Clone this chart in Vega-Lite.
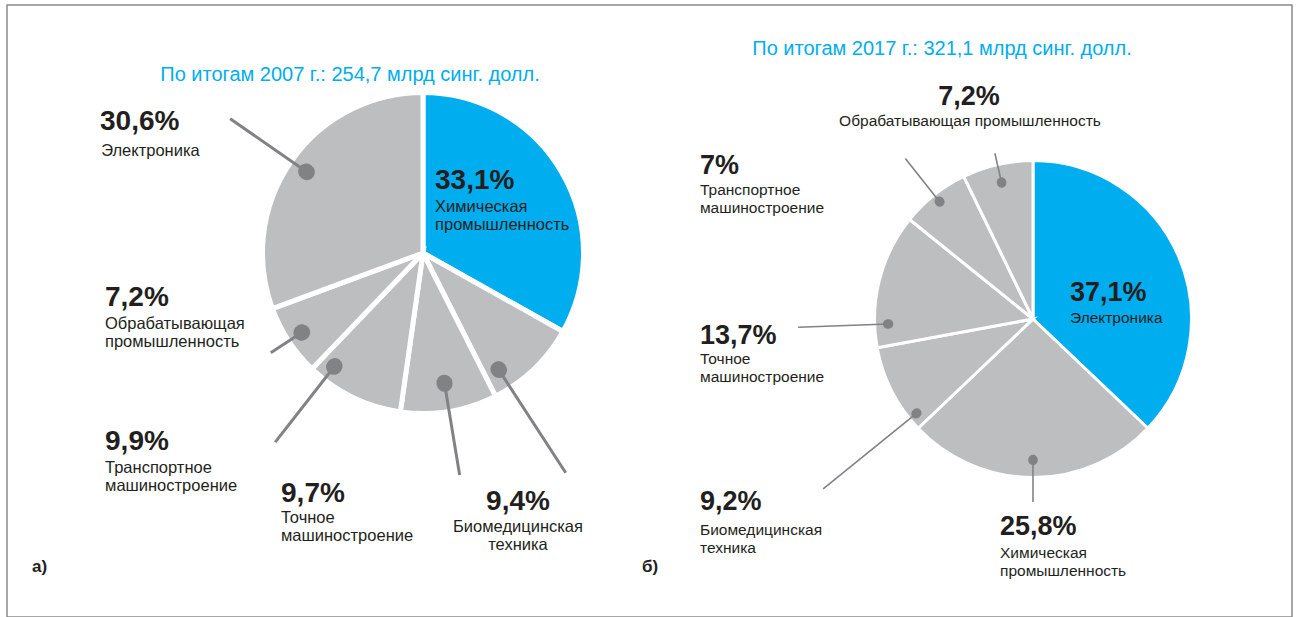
{
  "$schema": "https://vega.github.io/schema/vega-lite/v6.json",
  "width": 1285,
  "height": 612,
  "autosize": "none",
  "padding": {"left": 7, "top": 5, "right": 6, "bottom": 0},
  "background": "white",
  "config": {
    "view": {"stroke": "#8a8a8a", "strokeWidth": 1.5},
    "text": {"font": "Liberation Sans"},
    "locale": {"number": {"decimal": ",", "thousands": " ", "grouping": [3], "currency": ["", "%"]}}
  },
  "datasets": {
    "sectors": [
      {"year": 2007, "sector": "Химическая промышленность", "share": 33.1},
      {"year": 2007, "sector": "Биомедицинская техника", "share": 9.4},
      {"year": 2007, "sector": "Точное машиностроение", "share": 9.7},
      {"year": 2007, "sector": "Транспортное машиностроение", "share": 9.9},
      {"year": 2007, "sector": "Обрабатывающая промышленность", "share": 7.2},
      {"year": 2007, "sector": "Электроника", "share": 30.6},
      {"year": 2017, "sector": "Электроника", "share": 37.1},
      {"year": 2017, "sector": "Химическая промышленность", "share": 25.8},
      {"year": 2017, "sector": "Биомедицинская техника", "share": 9.2},
      {"year": 2017, "sector": "Точное машиностроение", "share": 13.7},
      {"year": 2017, "sector": "Транспортное машиностроение", "share": 7.0},
      {"year": 2017, "sector": "Обрабатывающая промышленность", "share": 7.2}
    ],
    "years": [
      {"year": 2007, "heading": "По итогам 2007 г.: 254,7 млрд синг. долл.", "panel": "а)"},
      {"year": 2017, "heading": "По итогам 2017 г.: 321,1 млрд синг. долл.", "panel": "б)"}
    ]
  },
  "encoding": {
    "x": {"field": "year", "type": "ordinal", "scale": {"type": "point", "range": [416, 1026], "padding": 0}, "axis": null},
    "y": {"field": "year", "type": "ordinal", "scale": {"type": "point", "range": [248, 314], "padding": 0}, "axis": null}
  },
  "layer": [
    {
      "data": {"name": "sectors"},
      "transform": [{"filter": "datum.year == 2007"}, {"window": [{"op": "row_number", "as": "slice"}]}],
      "encoding": {
        "theta": {"field": "share", "type": "quantitative", "stack": true},
        "order": {"field": "slice", "type": "quantitative"}
      },
      "layer": [
        {"mark": {"type": "arc", "outerRadius": 160.5, "stroke": "white", "strokeWidth": 5},
         "encoding": {"color": {"condition": {"test": "datum.sector === 'Химическая промышленность'", "value": "#00ADEF"}, "value": "#BCBEC0"}}},

        {"mark": {"type": "arc", "innerRadius": 142, "outerRadius": 235, "padAngle": 3, "filled": false, "color": "#808285", "strokeWidth": 3, "strokeJoin": "bevel"},
         "encoding": {"opacity": {"condition": {"test": "datum.sector === 'Электроника'", "value": 1}, "value": 0}}},
        {"mark": {"type": "arc", "innerRadius": 141.5, "outerRadius": 142.5, "padAngle": 3, "filled": false, "color": "#808285", "strokeWidth": 16, "strokeJoin": "round"},
         "encoding": {"opacity": {"condition": {"test": "datum.sector === 'Электроника'", "value": 1}, "value": 0}}},
        {"mark": {"type": "text", "radius": 235, "align": "left", "baseline": "alphabetic", "dx": -130.2, "dy": 11.3, "fontSize": 28, "fontWeight": "bold", "color": "#231F20"},
         "encoding": {"text": {"condition": {"test": "datum.sector === 'Электроника'", "field": "share", "type": "quantitative", "format": "$.1~f"}, "value": ""}}},
        {"mark": {"type": "text", "radius": 235, "align": "left", "baseline": "alphabetic", "dx": -129, "dy": 37.3, "fontSize": 16.5, "lineHeight": 18, "color": "#231F20"},
         "encoding": {"text": {"condition": {"test": "datum.sector === 'Электроника'", "field": "sector", "type": "nominal"}, "value": ""}}},

        {"mark": {"type": "text", "radius": 80, "align": "left", "baseline": "alphabetic", "dx": -57, "dy": -23.5, "fontSize": 28, "fontWeight": "bold", "color": "#231F20"},
         "encoding": {"text": {"condition": {"test": "datum.sector === 'Химическая промышленность'", "field": "share", "type": "quantitative", "format": "$.1~f"}, "value": ""}}},
        {"mark": {"type": "text", "radius": 80, "align": "left", "baseline": "alphabetic", "dx": -57, "dy": -0.5, "fontSize": 16.5, "lineHeight": 18, "lineBreak": " ", "color": "#231F20"},
         "encoding": {"text": {"condition": {"test": "datum.sector === 'Химическая промышленность'", "field": "sector", "type": "nominal"}, "value": ""}}},

        {"mark": {"type": "arc", "innerRadius": 145, "outerRadius": 182, "padAngle": 3, "filled": false, "color": "#808285", "strokeWidth": 3, "strokeJoin": "bevel"},
         "encoding": {"opacity": {"condition": {"test": "datum.sector === 'Обрабатывающая промышленность'", "value": 1}, "value": 0}}},
        {"mark": {"type": "arc", "innerRadius": 144.5, "outerRadius": 145.5, "padAngle": 3, "filled": false, "color": "#808285", "strokeWidth": 16, "strokeJoin": "round"},
         "encoding": {"opacity": {"condition": {"test": "datum.sector === 'Обрабатывающая промышленность'", "value": 1}, "value": 0}}},
        {"mark": {"type": "text", "radius": 182, "align": "left", "baseline": "alphabetic", "dx": -165.8, "dy": -46.8, "fontSize": 28, "fontWeight": "bold", "color": "#231F20"},
         "encoding": {"text": {"condition": {"test": "datum.sector === 'Обрабатывающая промышленность'", "field": "share", "type": "quantitative", "format": "$.1~f"}, "value": ""}}},
        {"mark": {"type": "text", "radius": 182, "align": "left", "baseline": "alphabetic", "dx": -165.8, "dy": -23.8, "fontSize": 16.5, "lineHeight": 18, "lineBreak": " ", "color": "#231F20"},
         "encoding": {"text": {"condition": {"test": "datum.sector === 'Обрабатывающая промышленность'", "field": "sector", "type": "nominal"}, "value": ""}}},

        {"mark": {"type": "arc", "innerRadius": 144, "outerRadius": 240, "padAngle": 3, "thetaOffset": 0.2104, "theta2Offset": 0.2104, "filled": false, "color": "#808285", "strokeWidth": 3, "strokeJoin": "bevel"},
         "encoding": {"opacity": {"condition": {"test": "datum.sector === 'Транспортное машиностроение'", "value": 1}, "value": 0}}},
        {"mark": {"type": "arc", "innerRadius": 143.5, "outerRadius": 144.5, "padAngle": 3, "thetaOffset": 0.2104, "theta2Offset": 0.2104, "filled": false, "color": "#808285", "strokeWidth": 16, "strokeJoin": "round"},
         "encoding": {"opacity": {"condition": {"test": "datum.sector === 'Транспортное машиностроение'", "value": 1}, "value": 0}}},
        {"mark": {"type": "text", "radius": 240, "thetaOffset": 0.2104, "align": "left", "baseline": "alphabetic", "dx": -170.2, "dy": 7.9, "fontSize": 28, "fontWeight": "bold", "color": "#231F20"},
         "encoding": {"text": {"condition": {"test": "datum.sector === 'Транспортное машиностроение'", "field": "share", "type": "quantitative", "format": "$.1~f"}, "value": ""}}},
        {"mark": {"type": "text", "radius": 240, "thetaOffset": 0.2104, "align": "left", "baseline": "alphabetic", "dx": -170.2, "dy": 30.9, "fontSize": 16.5, "lineHeight": 18, "lineBreak": " ", "color": "#231F20"},
         "encoding": {"text": {"condition": {"test": "datum.sector === 'Транспортное машиностроение'", "field": "sector", "type": "nominal"}, "value": ""}}},

        {"mark": {"type": "arc", "innerRadius": 132, "outerRadius": 225, "padAngle": 3, "filled": false, "color": "#808285", "strokeWidth": 3, "strokeJoin": "bevel"},
         "encoding": {"opacity": {"condition": {"test": "datum.sector === 'Точное машиностроение'", "value": 1}, "value": 0}}},
        {"mark": {"type": "arc", "innerRadius": 131.5, "outerRadius": 132.5, "padAngle": 3, "filled": false, "color": "#808285", "strokeWidth": 16, "strokeJoin": "round"},
         "encoding": {"opacity": {"condition": {"test": "datum.sector === 'Точное машиностроение'", "value": 1}, "value": 0}}},
        {"mark": {"type": "text", "radius": 225, "align": "left", "baseline": "alphabetic", "dx": -178.6, "dy": 27, "fontSize": 28, "fontWeight": "bold", "color": "#231F20"},
         "encoding": {"text": {"condition": {"test": "datum.sector === 'Точное машиностроение'", "field": "share", "type": "quantitative", "format": "$.1~f"}, "value": ""}}},
        {"mark": {"type": "text", "radius": 225, "align": "left", "baseline": "alphabetic", "dx": -178.6, "dy": 48, "fontSize": 16.5, "lineHeight": 18, "lineBreak": " ", "color": "#231F20"},
         "encoding": {"text": {"condition": {"test": "datum.sector === 'Точное машиностроение'", "field": "sector", "type": "nominal"}, "value": ""}}},

        {"mark": {"type": "arc", "innerRadius": 139, "outerRadius": 262, "padAngle": 3, "thetaOffset": 0.1882, "theta2Offset": 0.1882, "filled": false, "color": "#808285", "strokeWidth": 3, "strokeJoin": "bevel"},
         "encoding": {"opacity": {"condition": {"test": "datum.sector === 'Биомедицинская техника'", "value": 1}, "value": 0}}},
        {"mark": {"type": "arc", "innerRadius": 138.5, "outerRadius": 139.5, "padAngle": 3, "thetaOffset": 0.1882, "theta2Offset": 0.1882, "filled": false, "color": "#808285", "strokeWidth": 16, "strokeJoin": "round"},
         "encoding": {"opacity": {"condition": {"test": "datum.sector === 'Биомедицинская техника'", "value": 1}, "value": 0}}},
        {"mark": {"type": "text", "radius": 262, "thetaOffset": 0.1882, "align": "center", "baseline": "alphabetic", "dx": -47.7, "dy": 37.3, "fontSize": 28, "fontWeight": "bold", "color": "#231F20"},
         "encoding": {"text": {"condition": {"test": "datum.sector === 'Биомедицинская техника'", "field": "share", "type": "quantitative", "format": "$.1~f"}, "value": ""}}},
        {"mark": {"type": "text", "radius": 262, "thetaOffset": 0.1882, "align": "center", "baseline": "alphabetic", "dx": -47.7, "dy": 59.3, "fontSize": 16.5, "lineHeight": 18, "lineBreak": " ", "color": "#231F20"},
         "encoding": {"text": {"condition": {"test": "datum.sector === 'Биомедицинская техника'", "field": "sector", "type": "nominal"}, "value": ""}}}
      ]
    },
    {
      "data": {"name": "sectors"},
      "transform": [{"filter": "datum.year == 2017"}, {"window": [{"op": "row_number", "as": "slice"}]}],
      "encoding": {
        "theta": {"field": "share", "type": "quantitative", "stack": true},
        "order": {"field": "slice", "type": "quantitative"}
      },
      "layer": [
        {"mark": {"type": "arc", "outerRadius": 158.5, "stroke": "white", "strokeWidth": 3},
         "encoding": {"color": {"condition": {"test": "datum.sector === 'Электроника'", "value": "#00ADEF"}, "value": "#BCBEC0"}}},

        {"mark": {"type": "text", "radius": 80, "align": "left", "baseline": "alphabetic", "dx": -36.5, "dy": 13.5, "fontSize": 27, "fontWeight": "bold", "color": "#231F20"},
         "encoding": {"text": {"condition": {"test": "datum.sector === 'Электроника'", "field": "share", "type": "quantitative", "format": "$.1~f"}, "value": ""}}},
        {"mark": {"type": "text", "radius": 80, "align": "left", "baseline": "alphabetic", "dx": -36.5, "dy": 35.5, "fontSize": 15.5, "lineHeight": 17.5, "color": "#231F20"},
         "encoding": {"text": {"condition": {"test": "datum.sector === 'Электроника'", "field": "sector", "type": "nominal"}, "value": ""}}},

        {"mark": {"type": "arc", "innerRadius": 141, "outerRadius": 183, "padAngle": 3, "filled": false, "color": "#808285", "strokeWidth": 1.6, "strokeJoin": "bevel"},
         "encoding": {"opacity": {"condition": {"test": "datum.sector === 'Химическая промышленность'", "value": 1}, "value": 0}}},
        {"mark": {"type": "arc", "innerRadius": 140.5, "outerRadius": 141.5, "padAngle": 3, "filled": false, "color": "#808285", "strokeWidth": 9.5, "strokeJoin": "round"},
         "encoding": {"opacity": {"condition": {"test": "datum.sector === 'Химическая промышленность'", "value": 1}, "value": 0}}},
        {"mark": {"type": "text", "radius": 183, "align": "left", "baseline": "alphabetic", "dx": -33, "dy": 33, "fontSize": 27, "fontWeight": "bold", "color": "#231F20"},
         "encoding": {"text": {"condition": {"test": "datum.sector === 'Химическая промышленность'", "field": "share", "type": "quantitative", "format": "$.1~f"}, "value": ""}}},
        {"mark": {"type": "text", "radius": 183, "align": "left", "baseline": "alphabetic", "dx": -33, "dy": 56, "fontSize": 15.5, "lineHeight": 17.5, "lineBreak": " ", "color": "#231F20"},
         "encoding": {"text": {"condition": {"test": "datum.sector === 'Химическая промышленность'", "field": "sector", "type": "nominal"}, "value": ""}}},

        {"mark": {"type": "arc", "innerRadius": 150, "outerRadius": 270, "padAngle": 3, "thetaOffset": -0.2094, "theta2Offset": -0.2094, "filled": false, "color": "#808285", "strokeWidth": 1.6, "strokeJoin": "bevel"},
         "encoding": {"opacity": {"condition": {"test": "datum.sector === 'Биомедицинская техника'", "value": 1}, "value": 0}}},
        {"mark": {"type": "arc", "innerRadius": 149.5, "outerRadius": 150.5, "padAngle": 3, "thetaOffset": -0.2094, "theta2Offset": -0.2094, "filled": false, "color": "#808285", "strokeWidth": 9.5, "strokeJoin": "round"},
         "encoding": {"opacity": {"condition": {"test": "datum.sector === 'Биомедицинская техника'", "value": 1}, "value": 0}}},
        {"mark": {"type": "text", "radius": 270, "thetaOffset": -0.2094, "align": "left", "baseline": "alphabetic", "dx": -123.2, "dy": 21.1, "fontSize": 27, "fontWeight": "bold", "color": "#231F20"},
         "encoding": {"text": {"condition": {"test": "datum.sector === 'Биомедицинская техника'", "field": "share", "type": "quantitative", "format": "$.1~f"}, "value": ""}}},
        {"mark": {"type": "text", "radius": 270, "thetaOffset": -0.2094, "align": "left", "baseline": "alphabetic", "dx": -123.2, "dy": 46.1, "fontSize": 15.5, "lineHeight": 17.5, "lineBreak": " ", "color": "#231F20"},
         "encoding": {"text": {"condition": {"test": "datum.sector === 'Биомедицинская техника'", "field": "sector", "type": "nominal"}, "value": ""}}},

        {"mark": {"type": "arc", "innerRadius": 145, "outerRadius": 235, "padAngle": 3, "thetaOffset": -0.2831, "theta2Offset": -0.2831, "filled": false, "color": "#808285", "strokeWidth": 1.6, "strokeJoin": "bevel"},
         "encoding": {"opacity": {"condition": {"test": "datum.sector === 'Точное машиностроение'", "value": 1}, "value": 0}}},
        {"mark": {"type": "arc", "innerRadius": 144.5, "outerRadius": 145.5, "padAngle": 3, "thetaOffset": -0.2831, "theta2Offset": -0.2831, "filled": false, "color": "#808285", "strokeWidth": 9.5, "strokeJoin": "round"},
         "encoding": {"opacity": {"condition": {"test": "datum.sector === 'Точное машиностроение'", "value": 1}, "value": 0}}},
        {"mark": {"type": "text", "radius": 235, "thetaOffset": -0.2831, "align": "left", "baseline": "alphabetic", "dx": -98.1, "dy": 16.8, "fontSize": 27, "fontWeight": "bold", "color": "#231F20"},
         "encoding": {"text": {"condition": {"test": "datum.sector === 'Точное машиностроение'", "field": "share", "type": "quantitative", "format": "$.1~f"}, "value": ""}}},
        {"mark": {"type": "text", "radius": 235, "thetaOffset": -0.2831, "align": "left", "baseline": "alphabetic", "dx": -98.1, "dy": 36.8, "fontSize": 15.5, "lineHeight": 17.5, "lineBreak": " ", "color": "#231F20"},
         "encoding": {"text": {"condition": {"test": "datum.sector === 'Точное машиностроение'", "field": "sector", "type": "nominal"}, "value": ""}}},

        {"mark": {"type": "arc", "innerRadius": 150, "outerRadius": 205, "padAngle": 3, "filled": false, "color": "#808285", "strokeWidth": 1.6, "strokeJoin": "bevel"},
         "encoding": {"opacity": {"condition": {"test": "datum.sector === 'Транспортное машиностроение'", "value": 1}, "value": 0}}},
        {"mark": {"type": "arc", "innerRadius": 149.5, "outerRadius": 150.5, "padAngle": 3, "filled": false, "color": "#808285", "strokeWidth": 9.5, "strokeJoin": "round"},
         "encoding": {"opacity": {"condition": {"test": "datum.sector === 'Транспортное машиностроение'", "value": 1}, "value": 0}}},
        {"mark": {"type": "text", "radius": 205, "align": "left", "baseline": "alphabetic", "dx": -205.4, "dy": 15.4, "fontSize": 27, "fontWeight": "bold", "color": "#231F20"},
         "encoding": {"text": {"condition": {"test": "datum.sector === 'Транспортное машиностроение'", "field": "share", "type": "quantitative", "format": "$.1~f"}, "value": ""}}},
        {"mark": {"type": "text", "radius": 205, "align": "left", "baseline": "alphabetic", "dx": -205.4, "dy": 36.4, "fontSize": 15.5, "lineHeight": 17.5, "lineBreak": " ", "color": "#231F20"},
         "encoding": {"text": {"condition": {"test": "datum.sector === 'Транспортное машиностроение'", "field": "sector", "type": "nominal"}, "value": ""}}},

        {"mark": {"type": "arc", "innerRadius": 140, "outerRadius": 170, "padAngle": 3, "filled": false, "color": "#808285", "strokeWidth": 1.6, "strokeJoin": "bevel"},
         "encoding": {"opacity": {"condition": {"test": "datum.sector === 'Обрабатывающая промышленность'", "value": 1}, "value": 0}}},
        {"mark": {"type": "arc", "innerRadius": 139.5, "outerRadius": 140.5, "padAngle": 3, "filled": false, "color": "#808285", "strokeWidth": 9.5, "strokeJoin": "round"},
         "encoding": {"opacity": {"condition": {"test": "datum.sector === 'Обрабатывающая промышленность'", "value": 1}, "value": 0}}},
        {"mark": {"type": "text", "radius": 170, "align": "center", "baseline": "alphabetic", "dx": -25.9, "dy": -48.3, "fontSize": 27, "fontWeight": "bold", "color": "#231F20"},
         "encoding": {"text": {"condition": {"test": "datum.sector === 'Обрабатывающая промышленность'", "field": "share", "type": "quantitative", "format": "$.1~f"}, "value": ""}}},
        {"mark": {"type": "text", "radius": 170, "align": "center", "baseline": "alphabetic", "dx": -24.9, "dy": -27.3, "fontSize": 15.5, "color": "#231F20"},
         "encoding": {"text": {"condition": {"test": "datum.sector === 'Обрабатывающая промышленность'", "field": "sector", "type": "nominal"}, "value": ""}}}
      ]
    },
    {
      "data": {"name": "years"},
      "transform": [{"filter": "datum.year == 2007"}],
      "mark": {"type": "text", "align": "center", "baseline": "alphabetic", "dx": -73, "dy": -172, "fontSize": 20, "color": "#00ADEF"},
      "encoding": {"text": {"field": "heading", "type": "nominal"}}
    },
    {
      "data": {"name": "years"},
      "transform": [{"filter": "datum.year == 2017"}],
      "mark": {"type": "text", "align": "center", "baseline": "alphabetic", "dx": -91, "dy": -264, "fontSize": 20, "color": "#00ADEF"},
      "encoding": {"text": {"field": "heading", "type": "nominal"}}
    },
    {
      "data": {"name": "years"},
      "transform": [{"filter": "datum.year == 2007"}],
      "mark": {"type": "text", "align": "left", "baseline": "alphabetic", "dx": -391, "dy": 319, "fontSize": 17, "fontWeight": "bold", "color": "#231F20"},
      "encoding": {"text": {"field": "panel", "type": "nominal"}}
    },
    {
      "data": {"name": "years"},
      "transform": [{"filter": "datum.year == 2017"}],
      "mark": {"type": "text", "align": "left", "baseline": "alphabetic", "dx": -391, "dy": 253, "fontSize": 17, "fontWeight": "bold", "color": "#231F20"},
      "encoding": {"text": {"field": "panel", "type": "nominal"}}
    }
  ],
  "resolve": {"scale": {"theta": "independent"}}
}
